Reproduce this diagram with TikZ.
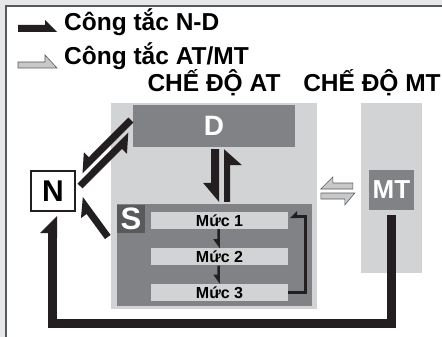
\documentclass[tikz,border=0pt]{standalone}
\usepackage{fontspec}
\setmainfont{Liberation Sans}
\usetikzlibrary{calc,positioning}
\definecolor{framegray}{HTML}{E6E7E8}
\definecolor{framedark}{HTML}{58595B}
\definecolor{panelgray}{HTML}{D1D3D4}
\definecolor{boxgray}{HTML}{808285}
\definecolor{sgray}{HTML}{58595B}
\definecolor{inkblack}{HTML}{231F20}
\definecolor{swgray}{HTML}{C7C8CA}

\begin{document}
\begin{tikzpicture}[x=1pt,y=-1pt,
    panel/.style={fill=panelgray,inner sep=0pt},
    dbox/.style={fill=boxgray,inner sep=0pt,text=white,font=\fontsize{28}{28}\selectfont\bfseries},
    nbox/.style={draw=inkblack,line width=2pt,fill=white,inner sep=0pt,
      minimum width=44pt,minimum height=40pt,font=\fontsize{30}{30}\selectfont\bfseries},
    muc/.style={fill=panelgray,inner sep=0pt,minimum width=137pt,minimum height=17pt,
      font=\fontsize{16}{16}\selectfont\bfseries},
    lg/.style={anchor=base west,inner sep=0pt,font=\fontsize{24.5}{25}\selectfont\bfseries},
    hdr/.style={anchor=base,inner sep=0pt,font=\fontsize{24.5}{25}\selectfont\bfseries},
    harp/.style n args={4}{to path={
      let \p1=($(\tikztotarget)-(\tikztostart)$),\n1={atan2(\y1,\x1)} in
      ($(\tikztostart)+({\n1-(#4)*90}:#1/2)$)
      -- ($(\tikztotarget)+({\n1-(#4)*90}:#1/2)$)
      -- ($(\tikztotarget)+({\n1+180}:#2)+({\n1+(#4)*90}:#1/2+#3)$)
      -- ($(\tikztotarget)+({\n1+180}:#2)+({\n1+(#4)*90}:#1/2)$)
      -- ($(\tikztostart)+({\n1+(#4)*90}:#1/2)$) -- cycle}},
    blk/.style={fill=inkblack},
    sw/.style={fill=swgray,draw=framedark,line width=0.6pt}]
  \useasboundingbox (0,0) rectangle (442,337);
  % frame
  \fill[framegray] (0,0) rectangle (442,337);
  \fill[white] (6,6) rectangle (442,337);
  \draw[framedark,line width=1.2pt] (6,337) -- (6,6) -- (442,6);

  % legend
  \node[lg] (lgND) at (64,31) {Công tắc N-D};
  \node[lg] (lgAM) at (64,65) {Công tắc AT/MT};
  \fill[blk] ($(lgND.base west)+(-46,-2.5)$) to[harp={7pt}{12pt}{5pt}{1}] ($(lgND.base west)+(-7,-2.5)$);
  \filldraw[sw] ($(lgAM.base west)+(-46,0)$) to[harp={6pt}{12pt}{7pt}{1}] ($(lgAM.base west)+(-7,0)$);

  % modes
  \node[hdr] (hAT) at (214,92) {CHẾ ĐỘ AT};
  \node[hdr] (hMT) at (372,92) {CHẾ ĐỘ MT};
  \node[panel,minimum width=206pt,minimum height=206pt] (at) at (214,206) {};
  \node[panel,minimum width=61pt,minimum height=170pt] (mtp) at (391.5,188) {};
  \node[dbox,minimum width=162pt,minimum height=42pt] (D) at (214,126) {D};
  \node[dbox,minimum width=45pt,minimum height=40pt,font=\fontsize{26}{26}\selectfont\bfseries] (MT) at (391.5,190) {MT};
  \node[fill=boxgray,inner sep=0pt,minimum width=195pt,minimum height=102pt] (sp) at (214.5,255) {};
  \node[fill=sgray,text=white,inner sep=0pt,minimum size=28pt,anchor=north west,
    font=\fontsize{31}{31}\selectfont\bfseries] (S) at ($(sp.north west)+(0,1)$) {S};
  \node[muc] (m1) at (219.5,220.5) {Mức 1};
  \node[muc,below=19pt of m1] (m2) {Mức 2};
  \node[muc,below=18pt of m2] (m3) {Mức 3};
  \node[nbox] (N) at (53,191) {N};

  % switching arrows
  \fill[blk] ($(D.south)+(1,2)$) to[harp={8pt}{19pt}{8pt}{-1}] ($(sp.north)+(0.5,-2)$);
  \fill[blk] ($(sp.north)+(12.5,-2)$) to[harp={6pt}{16pt}{12pt}{-1}] ($(D.south)+(13,2)$);
  \fill[blk] ($(D.west)+(-2,-6)$) to[harp={7pt}{16pt}{7pt}{-1}] ($(N.east)+(4,-20)$);
  \fill[blk] ($(N.east)+(4,-5)$) to[harp={7pt}{16pt}{7pt}{-1}] ($(D.west)+(-2,9)$);
  \fill[blk] ($(sp.west)+(-9,-18)$) to[harp={7pt}{16pt}{7pt}{1}] ($(N.east)+(4,8)$);
  \fill[blk] ($(m1.south)+(-1,0)$) to[harp={2.5pt}{9pt}{4pt}{-1}] ($(m2.north)+(-1,0)$);
  \fill[blk] ($(m2.south)+(-1,0)$) to[harp={2.5pt}{9pt}{4pt}{-1}] ($(m3.north)+(-1,0)$);
  \draw[inkblack,line width=3pt] (m3.east) -| ($(m1.east)+(17.5,-4)$) -- ($(m1.east)+(8,-4)$);
  \fill[blk] ($(m1.east)+(10,-4)$) to[harp={3pt}{7pt}{4pt}{-1}] ($(m1.east)+(2,-4)$);
  \filldraw[sw] ($(mtp.west)+(-8,-2)$) to[harp={6pt}{12pt}{6pt}{-1}] ($(mtp.west)+(-40,-2)$);
  \filldraw[sw] ($(mtp.west)+(-40,8)$) to[harp={6pt}{10pt}{6pt}{-1}] ($(mtp.west)+(-6,8)$);
  \draw[inkblack,line width=9pt] ($(MT.south)+(0,5)$) |- ($(N.south)+(-0.5,111.5)$) -- ($(N.south)+(-0.5,20)$);
  \fill[blk] ($(N.south)+(-0.5,26)$) to[harp={9pt}{17pt}{8pt}{1}] ($(N.south)+(-0.5,4)$);
\end{tikzpicture}
\end{document}
